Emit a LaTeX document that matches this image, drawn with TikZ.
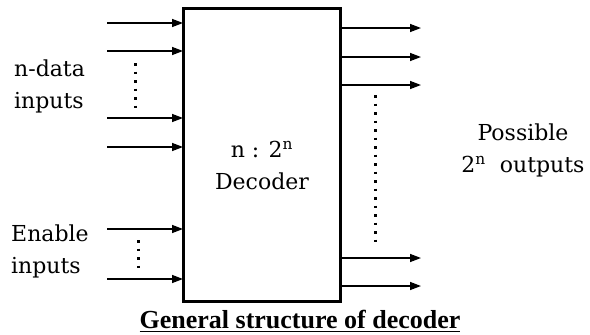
\documentclass[tikz,border=0pt]{standalone}
\usepackage{fontspec}
\setmainfont{DejaVu Serif}
\newfontfamily\capfont{Liberation Serif}
\usetikzlibrary{positioning,arrows.meta,calc}
\tikzset{
  lbl/.style    ={font=\fontsize{22}{32}\selectfont, align=left, inner sep=0pt},
  decbox/.style ={rectangle, draw, line width=3pt, minimum width=157pt,
                  minimum height=293pt, inner sep=0pt, outer sep=0pt},
  % one signal line entering or leaving the decoder
  sig/.style    ={draw, line width=1.4pt, -{Triangle[length=11pt,width=8pt]}},
  vdots/.style  ={draw, line width=3pt, dash pattern=on 2.5pt off 6pt},
}
\begin{document}
\begin{tikzpicture}[x=1pt,y=-1pt]
\useasboundingbox (0,0) rectangle (590,335);
\node[decbox] (dec) at (261.5,154.5) {};
\node[lbl, align=center] (dectxt) at (262,165)
  {n : 2\textsuperscript{n}\\Decoder};
% --- inputs ---
\foreach \n/\y in {d1/23, d2/51, d3/118, d4/147, e1/229, e2/279}
  {\coordinate (\n) at (107,\y);
   \draw[sig] (\n) -- (\n -| dec.west);}
\coordinate (dA) at (135,63);  \coordinate (dB) at (135,108);
\coordinate (eA) at (138,240); \coordinate (eB) at (138,270);
\draw[vdots] (dA) -- (dB);
\draw[vdots] (eA) -- (eB);
% --- outputs ---
\foreach \n/\y in {o1/28, o2/57, o3/85, o4/258, o5/286}
  {\coordinate (\n) at (421,\y);
   \draw[sig] (\n -| dec.east) -- (\n);}
\coordinate (oA) at (375,95); \coordinate (oB) at (375,247);
\draw[vdots] (oA) -- (oB);
% --- labels ---
\node[lbl, anchor=west] (datalbl) at (14,86) {n-data\\inputs};
\node[lbl, anchor=west] (enlbl) at (11,251) {Enable\\inputs};
\node[lbl, align=center] (outlbl) at (523,150)
  {Possible\\2\textsuperscript{n}\ \ outputs};
\node[font=\capfont\fontsize{26}{30}\selectfont\bfseries, inner sep=0pt]
  (cap) at (300,321) {\underline{General structure of decoder}};
\end{tikzpicture}
\end{document}
